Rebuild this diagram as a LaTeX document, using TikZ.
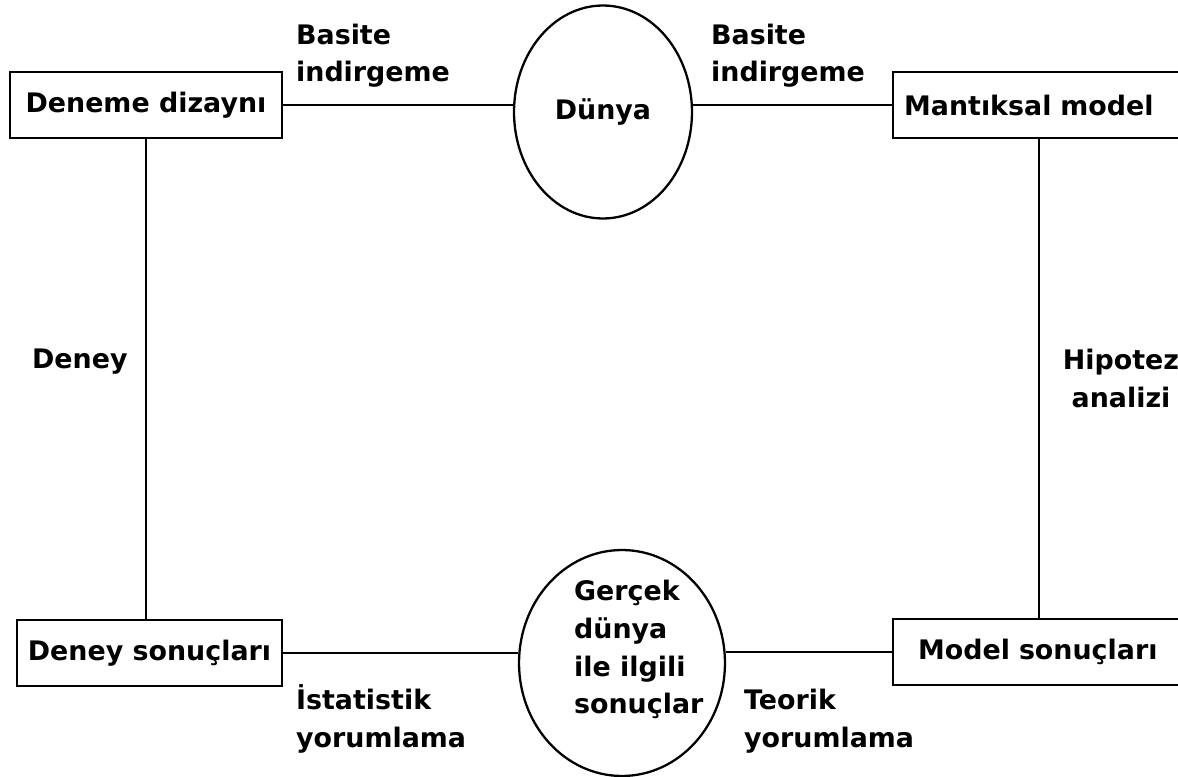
\documentclass[tikz,border=0pt]{standalone}
\usepackage{fontspec}
\setmainfont{DejaVu Sans}
\usepackage{tikz}
\usetikzlibrary{shapes.geometric}

\begin{document}
\begin{tikzpicture}[x=0.02cm,y=-0.02cm,line width=1.3pt,
  every node/.style={font=\bfseries\fontsize{15.3pt}{21.5pt}\selectfont},
  kutu/.style={draw,rectangle,inner sep=0pt,minimum height=1.32cm},
  elips/.style={draw,ellipse,inner sep=0pt},
  yazi/.style={inner sep=0pt,align=left}]
\clip (0,0) rectangle (1178,777);

\node[kutu,minimum width=5.44cm] (dizayn) at (146,105) {Deneme dizaynı};
\node[kutu,anchor=west,text width=5.8cm,align=left,inner xsep=0.22cm] (mantik) at (892,105) {Mantıksal model};
\node[kutu,minimum width=5.3cm] (sonuc) at (149.5,653) {Deney sonuçları};
\node[kutu,anchor=west,text width=5.5cm,align=left,inner xsep=0.5cm] (model) at (892,652) {Model sonuçları};
\node[elips,minimum width=3.56cm,minimum height=4.26cm] (dunya) at (603,112) {\raisebox{3pt}{Dünya}};
\node[elips,minimum width=4.12cm,minimum height=4.52cm] (gercek) at (622,663) {};
\node[yazi,anchor=north west] (gtext) at (573,579) {Gerçek\\dünya\\ile ilgili\\sonuçlar};

\coordinate (sag) at (1039,0);
\draw (dizayn.east) -- (dizayn.east -| dunya.west);
\draw (mantik.west -| dunya.east) -- (mantik.west);
\draw (sonuc.east) -- (sonuc.east -| gercek.west);
\draw (model.west -| gercek.east) -- (model.west);
\draw (dizayn.south) -- (dizayn.south |- sonuc.north);
\draw (mantik.south -| sag) -- (model.north -| sag);

% base = last line
\node[yazi,anchor=base west] (basite1) at (295,82) {Basite\\indirgeme};
\node[yazi,anchor=base west] (basite2) at (710,82) {Basite\\indirgeme};
\node[yazi,anchor=base west] (deney) at (31,368) {Deney};
\node[yazi,align=center,anchor=base] (hipotez) at (1121,407) {Hipotez\\analizi};
\node[yazi,anchor=base west] (istat) at (295,747) {İstatistik\\yorumlama};
\node[yazi,anchor=base west] (teorik) at (743,747) {Teorik\\yorumlama};
\end{tikzpicture}
\end{document}
